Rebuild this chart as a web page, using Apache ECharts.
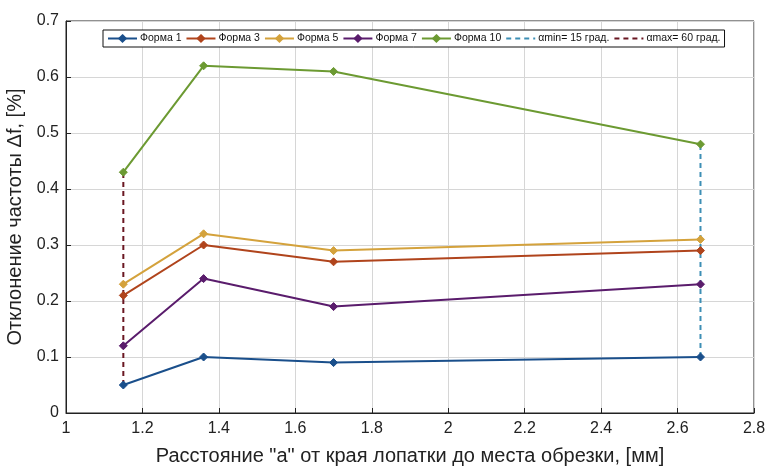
<!DOCTYPE html>
<html>
<head>
<meta charset="utf-8">
<script src="https://cdn.jsdelivr.net/npm/echarts@6/dist/echarts.min.js"></script>
<style>
  html, body { margin: 0; padding: 0; background: #ffffff; }
  #chart { width: 768px; height: 466px; }
</style>
</head>
<body>
<div id="chart"></div>
<script>
// Distance "a" from blade edge to the trim location, mm
const distances = [1.15, 1.36, 1.70, 2.66];

// Frequency deviation Δf, % for each blade shape
const forma1  = [0.05, 0.10, 0.09, 0.10];
const forma3  = [0.21, 0.30, 0.27, 0.29];
const forma5  = [0.23, 0.32, 0.29, 0.31];
const forma7  = [0.12, 0.24, 0.19, 0.23];
const forma10 = [0.43, 0.62, 0.61, 0.48];

// Angle bounds drawn as vertical dashed spans
const alphaMinX = 2.66, alphaMinRange = [0.10, 0.48];
const alphaMaxX = 1.15, alphaMaxRange = [0.05, 0.43];

const xTicks = { min: 1, max: 2.8, step: 0.2 };
const yTicks = { min: 0, max: 0.7, step: 0.1 };

const seriesNames = ['Форма 1', 'Форма 3', 'Форма 5', 'Форма 7', 'Форма 10'];
const seriesValues = [forma1, forma3, forma5, forma7, forma10];
const seriesColors = ['#1a4f8b', '#b0441c', '#d4a23c', '#5a1c6c', '#6c9a32'];
const alphaNames = ['αmin= 15 град.', 'αmax= 60 град.'];

const font = '"Liberation Sans", Arial, sans-serif';

function pairs(xs, ys) { return xs.map((x, i) => [x, ys[i]]); }

const series = [
  {
    name: alphaNames[0],
    type: 'line',
    data: alphaMinRange.map(v => [alphaMinX, v]),
    symbol: 'none',
    lineStyle: { color: '#3d8fb5', width: 2, type: [5, 4] },
    itemStyle: { color: '#3d8fb5' },
    z: 1
  },
  {
    name: alphaNames[1],
    type: 'line',
    data: alphaMaxRange.map(v => [alphaMaxX, v]),
    symbol: 'none',
    lineStyle: { color: '#6a1722', width: 2, type: [5, 4] },
    itemStyle: { color: '#6a1722' },
    z: 1
  }
];

seriesNames.forEach((name, i) => {
  series.push({
    name: name,
    type: 'line',
    data: pairs(distances, seriesValues[i]),
    symbol: 'diamond',
    symbolSize: 8,
    showSymbol: true,
    lineStyle: { color: seriesColors[i], width: 2 },
    itemStyle: { color: seriesColors[i], borderColor: seriesColors[i], borderWidth: 1 },
    z: 3
  });
});

const legendData = seriesNames.map(n => ({ name: n })).concat(
  alphaNames.map(n => ({ name: n, itemStyle: { opacity: 0 } }))
);

const chart = echarts.init(document.getElementById('chart'), null, { renderer: 'canvas' });
chart.setOption({
  animation: false,
  backgroundColor: '#ffffff',
  grid: {
    left: 66, right: 14, top: 21, bottom: 53,
    outerBoundsMode: 'none',
    show: true, borderColor: '#222', borderWidth: 1, backgroundColor: 'transparent'
  },
  legend: {
    data: legendData,
    left: 103,
    top: 30,
    orient: 'horizontal',
    itemWidth: 29,
    itemHeight: 8,
    itemGap: 4,
    padding: [3, 4, 3, 4],
    borderColor: '#111',
    borderWidth: 1,
    backgroundColor: '#ffffff',
    textStyle: { fontFamily: font, fontSize: 10.5, color: '#111', padding: [0, 0, 0, -2] }
  },
  xAxis: {
    type: 'value',
    min: xTicks.min,
    max: xTicks.max,
    interval: xTicks.step,
    name: 'Расстояние "а" от края лопатки до места обрезки, [мм]',
    nameLocation: 'middle',
    nameGap: 33,
    nameTextStyle: { fontFamily: font, fontSize: 20, color: '#222' },
    axisLine: { show: true, lineStyle: { color: '#222' } },
    axisTick: { show: true, inside: true, length: 5, lineStyle: { color: '#222' } },
    axisLabel: { fontFamily: font, fontSize: 16, color: '#222', margin: 8 },
    splitLine: { show: true, lineStyle: { color: '#d6d6d6', width: 1 } }
  },
  yAxis: {
    type: 'value',
    min: yTicks.min,
    max: yTicks.max,
    interval: yTicks.step,
    name: 'Отклонение частоты Δf, [%]',
    nameLocation: 'middle',
    nameGap: 34,
    nameTextStyle: { fontFamily: font, fontSize: 20, color: '#222' },
    axisLine: { show: true, lineStyle: { color: '#222' } },
    axisTick: { show: true, inside: true, length: 5, lineStyle: { color: '#222' } },
    axisLabel: { fontFamily: font, fontSize: 16, color: '#222', margin: 7 },
    splitLine: { show: true, lineStyle: { color: '#d6d6d6', width: 1 } }
  },
  series: series
});
</script>
</body>
</html>
